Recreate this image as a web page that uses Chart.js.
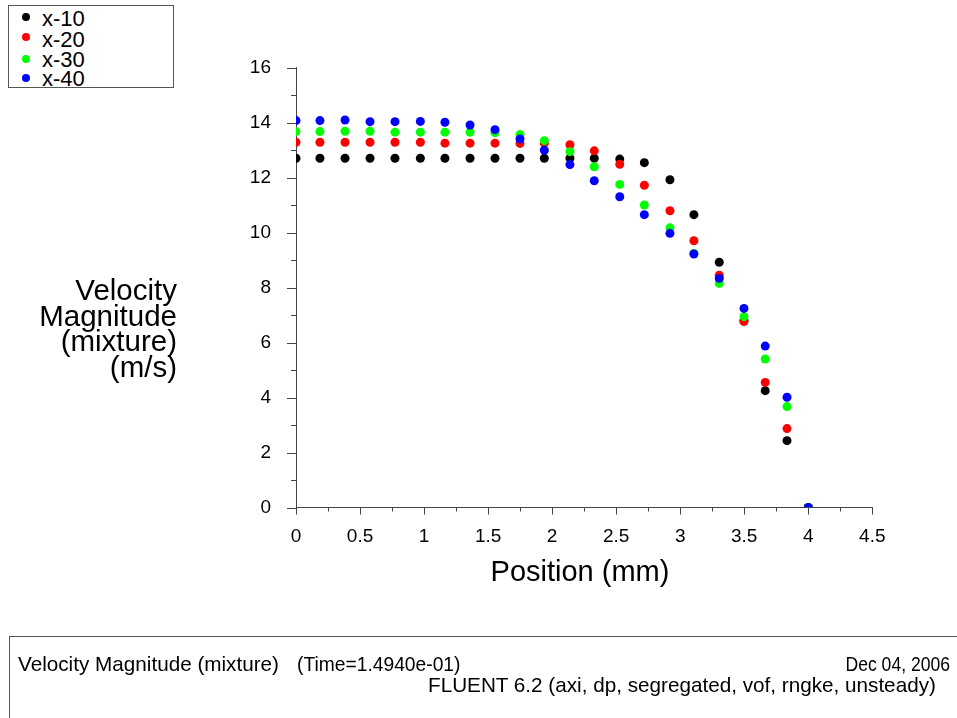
<!DOCTYPE html>
<html>
<head>
<meta charset="utf-8">
<script src="https://cdn.jsdelivr.net/npm/chart.js@4/dist/chart.umd.min.js"></script>
<style>
  html, body { margin: 0; padding: 0; background: #fff; }
  body { width: 957px; height: 718px; position: relative; overflow: hidden;
         font-family: "Liberation Sans", Arial, Helvetica, sans-serif; color: #000; }
  #plot { position: absolute; left: 0; top: 0; }
  .abs { position: absolute; white-space: pre; line-height: 1; }
  #legend { position: absolute; left: 8px; top: 5px; width: 164px; height: 81px;
            border: 1.5px solid #555; overflow: hidden; background: #fff; }
  #legend .item { position: absolute; left: 0; font-size: 22px; line-height: 1; white-space: pre; }
  #legend .dot { position: absolute; width: 8px; height: 8px; border-radius: 50%; }
  #ytitle { position: absolute; left: 0; top: 277px; width: 177px; text-align: right;
            font-size: 29.5px; line-height: 25.5px; }
  #xtitle { position: absolute; left: 380px; width: 400px; top: 557px; text-align: center;
            font-size: 29px; line-height: 1; }
  #footer { position: absolute; left: 9px; top: 636px; width: 960px; height: 100px;
            border: 1px solid #555; }
  .foot { font-size: 20.7px; }
</style>
</head>
<body>
<canvas id="plot" width="957" height="718"></canvas>
<div id="legend"></div>
<div id="ytitle">Velocity<br>Magnitude<br>(mixture)<br>(m/s)</div>
<div id="xtitle">Position (mm)</div>
<div id="footer"></div>
<div class="abs foot" style="left:18px; top:654px;">Velocity Magnitude (mixture)</div>
<div class="abs foot" style="left:297px; top:654px; transform:scaleX(0.93); transform-origin:left;">(Time=1.4940e-01)</div>
<div class="abs foot" style="right:7px; top:654px; transform:scaleX(0.85); transform-origin:right;">Dec 04, 2006</div>
<div class="abs foot" style="left:428px; top:675px;">FLUENT 6.2 (axi, dp, segregated, vof, rngke, unsteady)</div>

<script>
// Radial positions of the sampled cells (mm)
const positions = [0, 0.187, 0.383, 0.578, 0.773, 0.971, 1.163, 1.359, 1.554, 1.749, 1.939,
                   2.139, 2.329, 2.528, 2.720, 2.920, 3.107, 3.305, 3.498, 3.664, 3.834, 4.0];

// Velocity magnitude of the mixture (m/s) at each station
const x10 = [12.70, 12.70, 12.70, 12.70, 12.70, 12.70, 12.70, 12.70, 12.70, 12.70, 12.70,
             12.70, 12.70, 12.67, 12.54, 11.92, 10.65, 8.92, 6.80, 4.25, 2.43, 0];
const x20 = [13.28, 13.28, 13.28, 13.28, 13.28, 13.28, 13.25, 13.25, 13.25, 13.24, 13.25,
             13.19, 12.97, 12.48, 11.72, 10.79, 9.70, 8.45, 6.76, 4.55, 2.87, 0];
const x30 = [13.67, 13.67, 13.68, 13.68, 13.65, 13.65, 13.65, 13.65, 13.63, 13.56, 13.34,
             12.94, 12.39, 11.75, 11.00, 10.17, 9.24, 8.15, 6.94, 5.40, 3.67, 0];
const x40 = [14.07, 14.07, 14.09, 14.03, 14.03, 14.04, 14.01, 13.91, 13.74, 13.40, 12.99,
             12.47, 11.88, 11.30, 10.65, 9.97, 9.22, 8.33, 7.24, 5.87, 4.01, 0];

const seriesNames = ["x-10", "x-20", "x-30", "x-40"];
const seriesValues = [x10, x20, x30, x40];
const seriesColors = ["#000000", "#ff0000", "#00ff00", "#0000ff"];

// Axis ranges and tick spacing
const xRange = [0, 4.5];
const yRange = [0, 16];
const xMajorStep = 0.5, xMinorStep = 0.25;
const yMajorStep = 2, yMinorStep = 1;

const axisColor = "#444";
const fontFamily = '"Liberation Sans", Arial, Helvetica, sans-serif';

// Legend box
const legend = document.getElementById("legend");
const legendTextTop = [2, 22.5, 42.5, 61.5];
const legendDotTop = [7, 27, 48.5, 68];
seriesNames.forEach((name, i) => {
  const t = document.createElement("div");
  t.className = "item";
  t.style.left = "33px";
  t.style.top = legendTextTop[i] + "px";
  t.textContent = name;
  legend.appendChild(t);
  const d = document.createElement("div");
  d.className = "dot";
  d.style.left = "13px";
  d.style.top = legendDotTop[i] + "px";
  d.style.background = seriesColors[i];
  legend.appendChild(d);
});

// Tick marks: longer at labelled values, shorter in between
const tickMarks = {
  id: "tickMarks",
  beforeDatasetsDraw(chart) {
    const { ctx, scales: { x, y } } = chart;
    const x0 = x.getPixelForValue(xRange[0]);
    const y0 = y.getPixelForValue(yRange[0]);
    ctx.save();
    ctx.strokeStyle = axisColor;
    ctx.lineWidth = 1;
    ctx.beginPath();
    for (let v = yRange[0]; v <= yRange[1] + 1e-9; v += yMinorStep) {
      const py = Math.round(y.getPixelForValue(v)) + 0.5;
      const major = Math.abs(v / yMajorStep - Math.round(v / yMajorStep)) < 1e-6;
      const len = major ? 9 : 5;
      ctx.moveTo(x0, py);
      ctx.lineTo(x0 - len, py);
    }
    for (let v = xRange[0]; v <= xRange[1] + 1e-9; v += xMinorStep) {
      const px = Math.round(x.getPixelForValue(v)) + 0.5;
      const major = Math.abs(v / xMajorStep - Math.round(v / xMajorStep)) < 1e-6;
      const len = major ? 7 : 4;
      ctx.moveTo(px, y0);
      ctx.lineTo(px, y0 + len);
    }
    ctx.stroke();
    ctx.restore();
  }
};

const datasets = seriesNames.map((name, i) => ({
  label: name,
  data: positions.map((p, k) => ({ x: p, y: seriesValues[i][k] })),
  backgroundColor: seriesColors[i],
  borderColor: seriesColors[i],
  pointRadius: 4.5,
  pointBorderWidth: 0,
  showLine: false,
  order: seriesNames.length - i   // later series are painted on top
}));

new Chart(document.getElementById("plot"), {
  type: "scatter",
  data: { datasets },
  options: {
    responsive: false,
    animation: false,
    events: [],
    layout: { padding: { left: 0, top: 67.5, right: 84.7, bottom: 150.5 } },
    plugins: { legend: { display: false }, tooltip: { enabled: false } },
    scales: {
      x: {
        type: "linear",
        min: xRange[0], max: xRange[1],
        afterFit(scale) { scale.height = 60; },
        grid: { display: false, drawTicks: false },
        border: { display: true, color: axisColor, width: 1 },
        ticks: {
          stepSize: xMajorStep,
          padding: 18,
          color: "#000",
          font: { family: fontFamily, size: 19 },
          callback: v => String(v)
        }
      },
      y: {
        type: "linear",
        min: yRange[0], max: yRange[1],
        afterFit(scale) { scale.width = 296; },
        grid: { display: false, drawTicks: false },
        border: { display: true, color: axisColor, width: 1 },
        ticks: {
          stepSize: yMajorStep,
          padding: 25,
          color: "#000",
          font: { family: fontFamily, size: 19 },
          callback: v => String(v)
        }
      }
    }
  },
  plugins: [tickMarks]
});
</script>
</body>
</html>
